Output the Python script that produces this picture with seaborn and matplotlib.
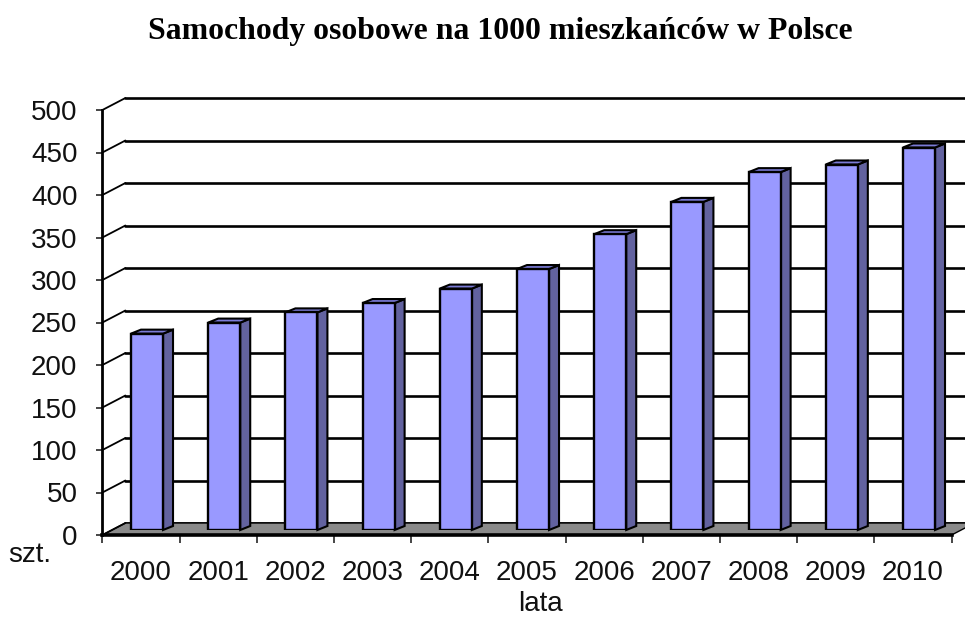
import matplotlib
matplotlib.use("Agg")
import matplotlib.pyplot as plt
import seaborn as sns
import pandas as pd
from matplotlib.patches import Polygon

# ---- data -------------------------------------------------------------
years = ["2000", "2001", "2002", "2003", "2004", "2005",
         "2006", "2007", "2008", "2009", "2010"]
cars_per_1000 = [231, 244, 256, 267, 284, 307, 348, 386, 421, 430, 450]
y_ticks = [0, 50, 100, 150, 200, 250, 300, 350, 400, 450, 500]
title = "Samochody osobowe na 1000 mieszkańców w Polsce"
x_label = "lata"
unit_label = "szt."

# ---- style ------------------------------------------------------------
sns.set_style("white")
plt.rcParams["font.family"] = ["Liberation Sans", "DejaVu Sans"]

FACE = "#9999ff"
SIDE = "#62629f"
TOP = "#7b7bd6"
FLOOR = "#8a8a8a"
TXT = "#111111"
FS = 20

W, H = 965, 623
fig = plt.figure(figsize=(W / 100, H / 100), dpi=100)


def rect(left, right, bottom, top):
    """Axes rectangle from pixel edges (y measured from the top)."""
    return [left / W, 1 - bottom / H, (right - left) / W, (bottom - top) / H]


# three depth planes of the pseudo-3D box: front, bar plane, back wall
BAR_L, BAR_R, BAR_B, BAR_T = 108.4, 957.6, 530, 105
FRONT_SHIFT = (-6, 5)
BACK_SHIFT = (17, -7)
BAR_DEPTH = (10, -4)

ax_back = fig.add_axes(rect(BAR_L + BACK_SHIFT[0], BAR_R + BACK_SHIFT[0],
                            BAR_B + BACK_SHIFT[1], BAR_T + BACK_SHIFT[1]))
ax_front = fig.add_axes(rect(BAR_L + FRONT_SHIFT[0], BAR_R + FRONT_SHIFT[0],
                             BAR_B + FRONT_SHIFT[1], BAR_T + FRONT_SHIFT[1]))
ax_bar = fig.add_axes(rect(BAR_L, BAR_R, BAR_B, BAR_T))
ax_back.set_zorder(0)
ax_front.set_zorder(1)
ax_bar.set_zorder(2)

n = len(years)
xlim = (-0.5, n - 0.5)
ylim = (y_ticks[0], y_ticks[-1])
px_x = (BAR_R - BAR_L) / n            # pixels per category
px_y = (BAR_B - BAR_T) / ylim[1]      # pixels per unit

for ax in (ax_back, ax_front, ax_bar):
    ax.set_xlim(*xlim)
    ax.set_ylim(*ylim)
    ax.patch.set_visible(False)
    for s in ax.spines.values():
        s.set_visible(False)

# ---- back wall gridlines ---------------------------------------------
ax_back.set_yticks(y_ticks)
ax_back.set_xticks([])
ax_back.tick_params(axis="y", length=0, labelleft=False)
ax_back.yaxis.grid(True, color="black", linewidth=1.9)
for gl in ax_back.get_ygridlines():
    gl.set_clip_on(False)

# ---- front plane: floor, side wall lines, axes ------------------------
depth_dx = (BACK_SHIFT[0] - FRONT_SHIFT[0]) / px_x
depth_dy = -(BACK_SHIFT[1] - FRONT_SHIFT[1]) / px_y

floor = Polygon([(xlim[0], 0), (xlim[1], 0),
                 (xlim[1] + depth_dx, depth_dy), (xlim[0] + depth_dx, depth_dy)],
                closed=True, facecolor=FLOOR, edgecolor="black",
                linewidth=1.0, clip_on=False, zorder=1)
ax_front.add_patch(floor)
for v in y_ticks:
    ax_front.plot([xlim[0], xlim[0] + depth_dx], [v, v + depth_dy],
                  color="black", linewidth=1.3, clip_on=False, zorder=2)

ax_front.spines["left"].set_visible(True)
ax_front.spines["left"].set_linewidth(2.0)
ax_front.spines["bottom"].set_visible(True)
ax_front.spines["bottom"].set_linewidth(2.6)
ax_front.spines["left"].set_color("black")
ax_front.spines["bottom"].set_color("black")

ax_front.set_yticks(y_ticks)
ax_front.set_yticklabels([str(v) for v in y_ticks])
ax_front.tick_params(axis="y", length=4.5, width=1.2, direction="out",
                     pad=13.5, labelsize=FS, labelcolor=TXT, left=True)
ax_front.set_xticks(range(n))
ax_front.set_xticklabels(years)
ax_front.set_xticks([i - 0.5 for i in range(n + 1)], minor=True)
ax_front.tick_params(axis="x", which="major", length=0, pad=18,
                     labelsize=FS, labelcolor=TXT)
ax_front.tick_params(axis="x", which="minor", length=6, width=1.2,
                     direction="out", bottom=True)

# ---- bars ---------------------------------------------------------------
df = pd.DataFrame({"year": years, "cars": cars_per_1000})
sns.barplot(data=df, x="year", y="cars", order=years, color=FACE,
            saturation=1, width=0.415, edgecolor="black", linewidth=1.7,
            ax=ax_bar, zorder=3)
ax_bar.set_xlim(*xlim)
ax_bar.set_ylim(*ylim)
ax_bar.set_xlabel("")
ax_bar.set_ylabel("")
ax_bar.set_xticks([])
ax_bar.set_yticks([])

bdx = BAR_DEPTH[0] / px_x
bdy = -BAR_DEPTH[1] / px_y
for p in list(ax_bar.patches):
    x0 = p.get_x()
    x1 = x0 + p.get_width()
    h = p.get_height()
    side = Polygon([(x1, 0), (x1 + bdx, bdy), (x1 + bdx, h + bdy), (x1, h)],
                   closed=True, facecolor=SIDE, edgecolor="black",
                   linewidth=1.5, clip_on=False, zorder=2.5)
    cap = Polygon([(x0, h), (x1, h), (x1 + bdx, h + bdy), (x0 + bdx, h + bdy)],
                  closed=True, facecolor=TOP, edgecolor="black",
                  linewidth=1.5, clip_on=False, zorder=2.5)
    ax_bar.add_patch(side)
    ax_bar.add_patch(cap)

# ---- texts --------------------------------------------------------------
t = fig.text(500 / W, 1 - 31 / H, title, ha="center", va="center",
             family=["Liberation Serif", "DejaVu Serif"], weight="bold",
             fontsize=24, color="black")
renderer = fig.canvas.get_renderer()
width_px = t.get_window_extent(renderer).width
t.set_fontsize(24 * 704 / width_px)

fig.text(30 / W, 1 - 555 / H, unit_label, ha="center", va="center",
         fontsize=FS, color=TXT)
fig.text(540 / W, 1 - 604 / H, x_label, ha="center", va="center",
         fontsize=FS, color=TXT)

fig.savefig("out.png", dpi=100, facecolor="white")
